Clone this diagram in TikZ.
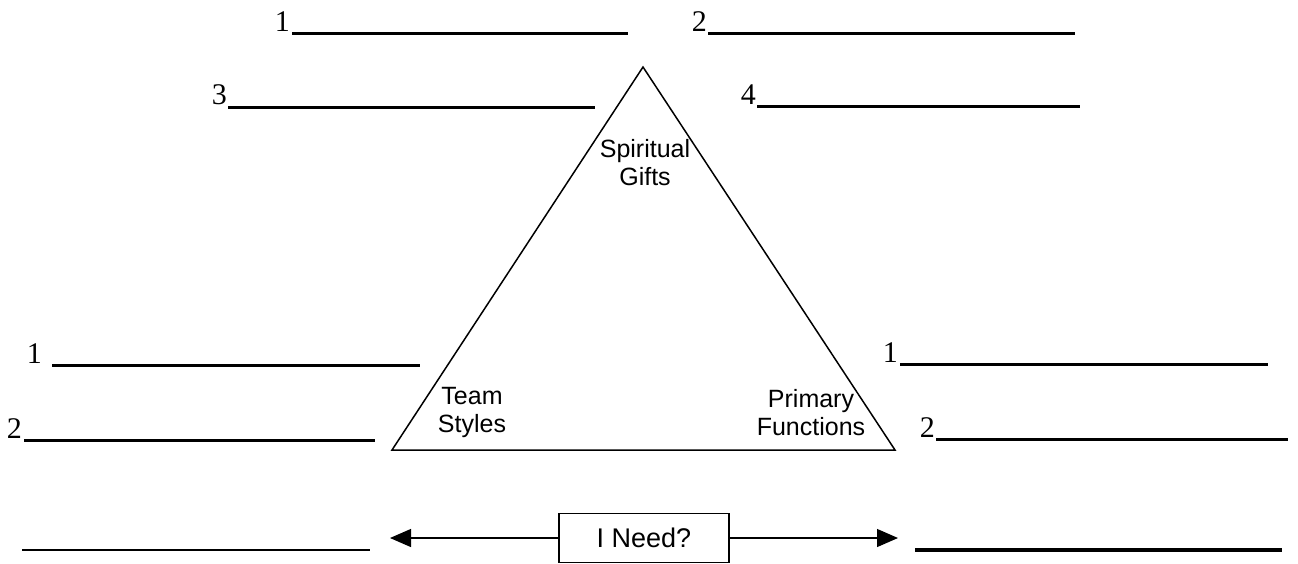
\documentclass[tikz,border=0pt]{standalone}
\usepackage{fontspec}
\setmainfont{Liberation Serif}
\newfontfamily\labelfont{Liberation Sans}
\usetikzlibrary{arrows.meta,positioning}

\begin{document}
\begin{tikzpicture}[x=1pt,y=-1pt]
\tikzstyle{num}=[inner sep=0pt,font=\fontsize{30}{36}\selectfont]
\tikzstyle{blank}=[line width=3pt]
\tikzstyle{side}=[line width=1.5pt,line join=miter]
\tikzstyle{corner}=[align=center,inner sep=0pt,font=\labelfont\fontsize{25}{28}\selectfont]
\tikzstyle{ask}=[draw,line width=1.2pt,minimum width=170pt,minimum height=49pt,inner sep=0pt,font=\labelfont\fontsize{27}{32}\selectfont]
\tikzstyle{pointer}=[line width=1.2pt,-{Triangle[length=21pt,width=18pt]}]
\useasboundingbox (0,0) rectangle (1298,563);

% triangle
\coordinate (apex) at (643,67);
\coordinate (baseL) at (392,450);
\coordinate (baseR) at (895,450);
\draw[side] (apex) -- (baseL) -- (baseR) -- cycle;
\node[corner] (gifts) at (645,163) {Spiritual\\Gifts};
\node[corner] (team) at (472,412) {Team\\Styles};
\node[corner] (primary) at (811,413) {Primary\\Functions};

% top blanks
\node[num,anchor=base east] (top1) at (290,31) {1};
\coordinate (top1a) at (292,33);
\coordinate (top1b) at (628,33);
\draw[blank] (top1a) -- (top1b);
\node[num,anchor=base east] (top2) at (707,31) {2};
\coordinate (top2a) at (708,33);
\coordinate (top2b) at (1075,33);
\draw[blank] (top2a) -- (top2b);
\node[num,anchor=base east] (top3) at (227,104) {3};
\coordinate (top3a) at (228,107);
\coordinate (top3b) at (595,107);
\draw[blank] (top3a) -- (top3b);
\node[num,anchor=base east] (top4) at (756,104) {4};
\coordinate (top4a) at (757,106);
\coordinate (top4b) at (1080,106);
\draw[blank] (top4a) -- (top4b);

% side blanks
\node[num,anchor=base east] (left1) at (42,363) {1};
\coordinate (left1a) at (52,365);
\coordinate (left1b) at (420,365);
\draw[blank] (left1a) -- (left1b);
\node[num,anchor=base east] (left2) at (22,438) {2};
\coordinate (left2a) at (24,440);
\coordinate (left2b) at (375,440);
\draw[blank] (left2a) -- (left2b);
\node[num,anchor=base east] (right1) at (898,362) {1};
\coordinate (right1a) at (900,364);
\coordinate (right1b) at (1268,364);
\draw[blank] (right1a) -- (right1b);
\node[num,anchor=base east] (right2) at (935,437) {2};
\coordinate (right2a) at (936,439);
\coordinate (right2b) at (1288,439);
\draw[blank] (right2a) -- (right2b);

% bottom row
\coordinate (lowLa) at (22,550);
\coordinate (lowLb) at (370,550);
\draw[blank,line width=2.5pt] (lowLa) -- (lowLb);
\coordinate (lowRa) at (915,550);
\coordinate (lowRb) at (1282,550);
\draw[blank,line width=4.5pt] (lowRa) -- (lowRb);
\node[ask] (need) at (644,538) {I Need?};
\coordinate (tipL) at (390,538);
\coordinate (tipR) at (898,538);
\draw[pointer] (need) -- (tipL);
\draw[pointer] (need) -- (tipR);

\end{tikzpicture}
\end{document}
